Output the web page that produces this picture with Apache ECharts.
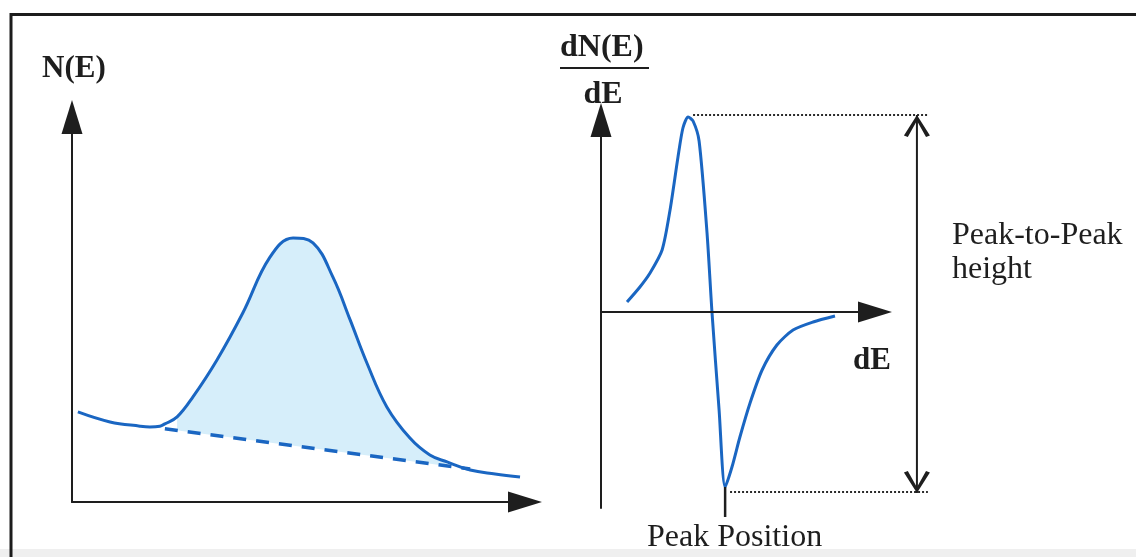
<!DOCTYPE html>
<html>
<head>
<meta charset="utf-8">
<script src="https://cdn.jsdelivr.net/npm/echarts@6/dist/echarts.min.js"></script>
<style>
html,body{margin:0;padding:0;background:#fff;}
#c{width:1136px;height:557px;}
</style>
</head>
<body>
<div id="c"></div>
<script>
// ---- Left panel: N(E) spectrum (arbitrary units 0..100) ----
const nE_energy = [1.3, 8.4, 15.0, 17.2, 19.4, 20.5, 23.2, 26.7, 32.0, 37.7, 43.7, 48.8, 53.2, 57.6, 61.4, 65.1, 69.5, 74.6, 79.0, 82.8, 87.9, 93.4, 98.9];
const nE_counts = [23.4, 20.8, 19.7, 19.5, 19.7, 20.3, 22.1, 27.3, 36.9, 49.1, 63.6, 68.6, 67.3, 58.4, 47.3, 36.1, 24.7, 16.6, 12.2, 10.4, 8.3, 7.3, 6.5];
const baseline_energy = [20.5, 87.9];
const baseline_counts = [19.0, 8.6];

// ---- Right panel: dN(E)/dE derivative (arbitrary units) ----
const dN_energy = [9.5, 14.2, 17.9, 22.3, 25.2, 28.1, 29.9, 31.8, 33.6, 35.8, 38.7, 40.5, 43.1, 45.3, 47.8, 50.7, 54.4, 58.8, 64.2, 70.1, 77.4, 85.4];
const dN_values = [5, 12.5, 19.5, 31, 51, 77.5, 92, 97.5, 95.5, 85.5, 39.5, 0, -49, -87.5, -77.5, -62.5, -45.5, -29, -16.5, -9, -5, -2];

// annotation guides (same units as right panel)
const topGuideX = [33.6, 119.3];
const topGuideY = 98.5;
const bottomGuideX = [47.1, 119.3];
const bottomGuideY = -90;
const p2pArrowX = 115.3;
const p2pArrowY = [98.5, -90.5];
const peakPosX = 45.3;
const peakPosY = [-87.5, -102.5];

// texts
const txtNE = 'N(E)';
const txtDNE = 'dN(E)';
const txtDE = 'dE';
const txtAxisDE = 'dE';
const txtPeakPos = 'Peak Position';
const txtP2P1 = 'Peak-to-Peak';
const txtP2P2 = 'height';

const pairs = (xs, ys) => xs.map((x, i) => [x, ys[i]]);
const curveLeft = pairs(nE_energy, nE_counts);
const fillPart = curveLeft.filter(p => p[0] > baseline_energy[0] && p[0] < baseline_energy[1]);
const baseline = pairs(baseline_energy, baseline_counts);
const curveRight = pairs(dN_energy, dN_values);

const BLUE = '#1a66c2';
const INK = '#1e1e1e';
const SERIF = "'Liberation Serif','Times New Roman',serif";
const chevron = 'path://M0,20 L10,0 L20,20 L17,21.5 L10,5.5 L3,21.5 Z';

const axisCommon = {
  axisTick: {show: false},
  axisLabel: {show: false},
  splitLine: {show: false},
  z: 10
};
const hiddenAxis = {
  axisLine: {show: false},
  axisTick: {show: false},
  axisLabel: {show: false},
  splitLine: {show: false}
};

const chart = echarts.init(document.getElementById('c'), null, {renderer: 'canvas'});
chart.setOption({
  animation: false,
  backgroundColor: '#ffffff',
  grid: [
    {left: 72, top: 117, width: 453, height: 385, containLabel: false},
    {left: 601, top: 120, width: 274, height: 388, containLabel: false},
    // annotation layer sharing the right panel's scale (2.74 px / unit in x, 2 px / unit in y)
    {left: 601, top: 112, width: 411, height: 420, containLabel: false}
  ],
  xAxis: [
    Object.assign({type: 'value', gridIndex: 0, min: 0, max: 100,
      axisLine: {show: true, onZero: false, symbol: ['none', 'triangle'], symbolSize: [21, 34],
        lineStyle: {color: INK, width: 2}}}, axisCommon),
    Object.assign({type: 'value', gridIndex: 1, min: 0, max: 100,
      axisLine: {show: true, onZero: true, symbol: ['none', 'triangle'], symbolSize: [21, 34],
        lineStyle: {color: INK, width: 2}}}, axisCommon),
    Object.assign({type: 'value', gridIndex: 2, min: 0, max: 150}, hiddenAxis)
  ],
  yAxis: [
    Object.assign({type: 'value', gridIndex: 0, min: 0, max: 100,
      axisLine: {show: true, onZero: false, symbol: ['none', 'triangle'], symbolSize: [21, 34],
        lineStyle: {color: INK, width: 2}}}, axisCommon),
    Object.assign({type: 'value', gridIndex: 1, min: -98, max: 96,
      axisLine: {show: true, onZero: false, symbol: ['none', 'triangle'], symbolSize: [21, 34],
        lineStyle: {color: INK, width: 2}}}, axisCommon),
    Object.assign({type: 'value', gridIndex: 2, min: -110, max: 100}, hiddenAxis)
  ],
  series: [
    {type: 'line', xAxisIndex: 0, yAxisIndex: 0, data: fillPart, smooth: 0.4, showSymbol: false, silent: true,
      lineStyle: {opacity: 0, width: 0}, areaStyle: {color: '#d6eefa', opacity: 1}},
    {type: 'line', xAxisIndex: 0, yAxisIndex: 0, data: baseline, showSymbol: false, silent: true,
      lineStyle: {opacity: 0, width: 0}, areaStyle: {color: '#ffffff', opacity: 1}},
    {type: 'line', xAxisIndex: 0, yAxisIndex: 0, data: baseline, showSymbol: false, silent: true,
      lineStyle: {color: BLUE, width: 3.5, type: [13, 10]}},
    {type: 'line', xAxisIndex: 0, yAxisIndex: 0, data: curveLeft, smooth: 0.4, showSymbol: false, silent: true,
      lineStyle: {color: BLUE, width: 3}},

    {type: 'line', xAxisIndex: 1, yAxisIndex: 1, data: curveRight, smooth: 0.25, showSymbol: false, silent: true, clip: false,
      lineStyle: {color: BLUE, width: 3}},
    {type: 'line', xAxisIndex: 2, yAxisIndex: 2, data: topGuideX.map(x => [x, topGuideY]), showSymbol: false, silent: true, clip: false,
      lineStyle: {color: '#2a2a2a', width: 2, type: [2, 2]}},
    {type: 'line', xAxisIndex: 2, yAxisIndex: 2, data: bottomGuideX.map(x => [x, bottomGuideY]), showSymbol: false, silent: true, clip: false,
      lineStyle: {color: '#2a2a2a', width: 2, type: [2, 2]}},
    {type: 'line', xAxisIndex: 2, yAxisIndex: 2, silent: true, clip: false, showSymbol: true,
      data: [
        {value: [p2pArrowX, p2pArrowY[0]], symbol: chevron, symbolSize: [26, 22], symbolRotate: 0, symbolOffset: [0, 11]},
        {value: [p2pArrowX, p2pArrowY[1]], symbol: chevron, symbolSize: [26, 22], symbolRotate: 180, symbolOffset: [0, -11]}
      ],
      itemStyle: {color: INK},
      lineStyle: {color: INK, width: 2}},
    {type: 'line', xAxisIndex: 2, yAxisIndex: 2, data: peakPosY.map(y => [peakPosX, y]), showSymbol: false, silent: true, clip: false,
      lineStyle: {color: INK, width: 2.5}}
  ],
  graphic: [
    {type: 'rect', shape: {x: 0, y: 549, width: 1136, height: 8}, style: {fill: '#efefef'}, z: 100},
    {type: 'line', shape: {x1: 10, y1: 14.5, x2: 1136, y2: 14.5}, style: {stroke: '#1c1c1c', lineWidth: 3}, z: 101},
    {type: 'line', shape: {x1: 11, y1: 13, x2: 11, y2: 557}, style: {stroke: '#1c1c1c', lineWidth: 3}, z: 101},
    {type: 'text', x: 42, y: 69, style: {text: txtNE, font: "bold 31px " + SERIF, fill: INK, verticalAlign: 'middle'}, z: 100},
    {type: 'text', x: 560, y: 48, style: {text: txtDNE, font: "bold 32px " + SERIF, fill: INK, verticalAlign: 'middle'}, z: 100},
    {type: 'line', shape: {x1: 560, y1: 68, x2: 649, y2: 68}, style: {stroke: INK, lineWidth: 2}, z: 100},
    {type: 'text', x: 603, y: 95, style: {text: txtDE, font: "bold 32px " + SERIF, fill: INK, align: 'center', verticalAlign: 'middle'}, z: 100},
    {type: 'text', x: 853, y: 361, style: {text: txtAxisDE, font: "bold 31px " + SERIF, fill: INK, verticalAlign: 'middle'}, z: 100},
    {type: 'text', x: 647, y: 538, style: {text: txtPeakPos, font: "32px " + SERIF, fill: INK, verticalAlign: 'middle'}, z: 100},
    {type: 'text', x: 952, y: 236, style: {text: txtP2P1, font: "32px " + SERIF, fill: INK, verticalAlign: 'middle'}, z: 100},
    {type: 'text', x: 952, y: 270, style: {text: txtP2P2, font: "32px " + SERIF, fill: INK, verticalAlign: 'middle'}, z: 100}
  ]
});
</script>
</body>
</html>
